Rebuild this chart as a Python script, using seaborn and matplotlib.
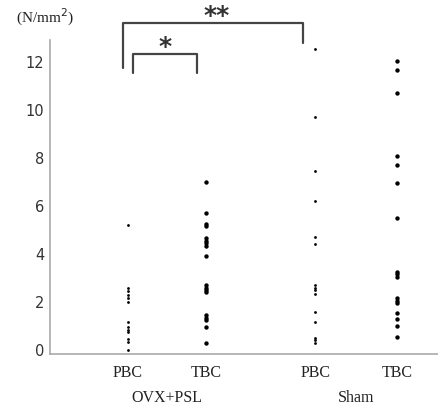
import pandas as pd
import matplotlib.pyplot as plt
import seaborn as sns

# values (N/mm2)
ovx_pbc = [5.2, 2.6, 2.45, 2.3, 2.15, 2.0, 1.15, 0.95, 0.85, 0.75, 0.45, 0.35, 0.0]
ovx_tbc = [7.0, 5.7, 5.25, 5.15, 4.65, 4.55, 4.45, 4.35, 3.9, 2.7, 2.6, 2.5, 2.4,
           1.45, 1.35, 1.25, 0.95, 0.3]
sham_pbc = [12.55, 9.7, 7.45, 6.2, 4.7, 4.4, 2.7, 2.6, 2.5, 2.35, 1.6, 1.15, 0.5, 0.4, 0.28]
sham_tbc = [12.05, 11.65, 10.7, 8.1, 7.7, 6.95, 5.5, 3.25, 3.15, 3.05, 2.15, 2.05, 1.95,
            1.55, 1.3, 1.0, 0.55]

groups = ["OVX+PSL", "OVX+PSL", "Sham", "Sham"]
sites = ["PBC", "TBC", "PBC", "TBC"]
series = [ovx_pbc, ovx_tbc, sham_pbc, sham_tbc]
y_ticks = [0, 2, 4, 6, 8, 10, 12]

# column positions on the x axis (layout)
xpos = [1.0, 2.0, 3.4, 4.45]

rows = []
for i, vals in enumerate(series):
    for v in vals:
        rows.append({"group": groups[i], "site": sites[i], "x": xpos[i], "value": v})
df = pd.DataFrame(rows)

sns.set_style("white")
fig = plt.figure(figsize=(4.38, 4.09), dpi=100)
ax = fig.add_axes([50/438, 55/409, 388/438, 314/409])

# PBC dots smaller than TBC dots
sns.scatterplot(data=df[df.site == "PBC"], x="x", y="value", ax=ax, color="black",
                s=4, linewidth=0, legend=False)
sns.scatterplot(data=df[df.site == "TBC"], x="x", y="value", ax=ax, color="black",
                s=10, linewidth=0, legend=False)

ax.set_xlim(0, 4.97)
ax.set_ylim(-0.17, 12.92)
ax.set_yticks(y_ticks)
ax.set_yticklabels([str(t) for t in y_ticks], fontsize=10.5, color="#333333",
                   family="DejaVu Sans")
ax.tick_params(axis="y", length=3, width=0.8, color="#999999", pad=1)
ax.set_xticks([])
ax.set_xlabel("")
ax.set_ylabel("")
for s in ["top", "right"]:
    ax.spines[s].set_visible(False)
for s in ["left", "bottom"]:
    ax.spines[s].set_color("#aaaaaa")
    ax.spines[s].set_linewidth(1.2)

# category labels
tf = ax.get_xaxis_transform()
for x, s in zip(xpos, sites):
    ax.text(x, -0.06, s, transform=tf, ha="center", va="center",
            family="Liberation Serif", fontsize=11.5, color="#222222")
ax.text((xpos[0] + xpos[1]) / 2, -0.14, "OVX+PSL", transform=tf, ha="center",
        va="center", family="Liberation Serif", fontsize=11.5, color="#222222")
ax.text((xpos[2] + xpos[3]) / 2, -0.14, "Sham", transform=tf, ha="center",
        va="center", family="Liberation Serif", fontsize=11.5, color="#222222")

fig.text(45/438, 1 - 17/409, "(N/mm$^2$)", ha="center", va="center",
         family="Liberation Serif", fontsize=11, color="#222222")

# significance brackets
lc = "#444444"
ax.plot([0.94, 0.94, 3.24, 3.24], [11.74, 13.64, 13.64, 12.8], color=lc, lw=1.6,
        clip_on=False)
ax.text(2.13, 13.9, "**", ha="center", va="center", fontsize=18, fontweight="bold",
        color="#333333", family="DejaVu Sans", clip_on=False)
ax.plot([1.06, 1.06, 1.88, 1.88], [11.53, 12.32, 12.32, 11.53], color=lc, lw=1.6,
        clip_on=False)
ax.text(1.47, 12.63, "*", ha="center", va="center", fontsize=18, fontweight="bold",
        color="#333333", family="DejaVu Sans", clip_on=False)

plt.savefig("out.png", dpi=100)
